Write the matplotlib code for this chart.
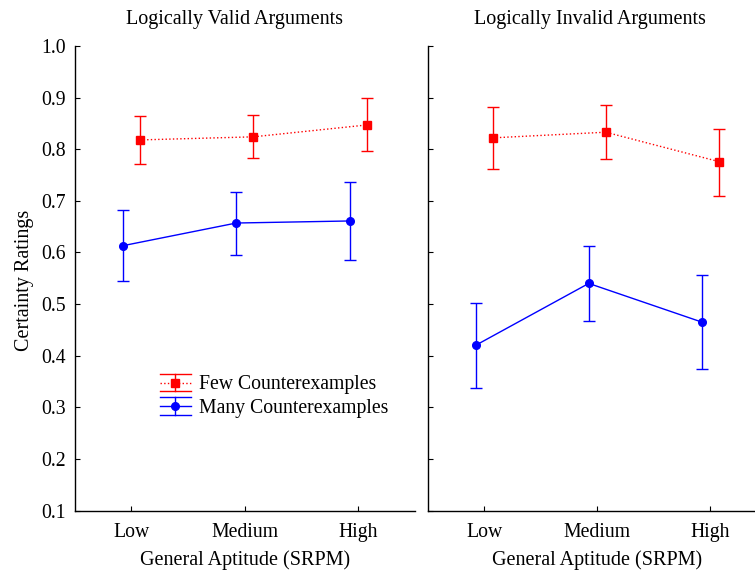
import matplotlib
matplotlib.use("Agg")
import matplotlib.pyplot as plt
import numpy as np
from matplotlib.lines import Line2D
from matplotlib.legend_handler import HandlerBase

plt.rcParams['font.family'] = ['Liberation Serif', 'DejaVu Serif']

categories = ["Low", "Medium", "High"]
series_names = ["Few Counterexamples", "Many Counterexamples"]
panel_titles = ["Logically Valid Arguments", "Logically Invalid Arguments"]

# Logically valid
valid_few = [0.818, 0.824, 0.847]
valid_few_lo = [0.771, 0.783, 0.797]
valid_few_hi = [0.865, 0.866, 0.899]
valid_many = [0.613, 0.657, 0.661]
valid_many_lo = [0.544, 0.596, 0.586]
valid_many_hi = [0.682, 0.718, 0.737]

# Logically invalid
invalid_few = [0.822, 0.833, 0.776]
invalid_few_lo = [0.762, 0.781, 0.710]
invalid_few_hi = [0.881, 0.886, 0.840]
invalid_many = [0.420, 0.540, 0.465]
invalid_many_lo = [0.337, 0.467, 0.375]
invalid_many_hi = [0.503, 0.613, 0.557]

yticks = [0.1, 0.2, 0.3, 0.4, 0.5, 0.6, 0.7, 0.8, 0.9, 1.0]

RED = "#ff0000"
BLUE = "#0000ff"

fig = plt.figure(figsize=(7.55, 5.74), dpi=100)
W, H = 755, 574
ax1 = fig.add_axes([74.5 / W, 1 - 510.5 / H, (415 - 74.5) / W, (510.5 - 46) / H])
ax2 = fig.add_axes([427.5 / W, 1 - 510.5 / H, (767 - 427.5) / W, (510.5 - 46) / H])

x = np.arange(1, 4)
off = 0.075
LABEL_FS = 14.5

def draw(ax, few, flo, fhi, many, mlo, mhi):
    few = np.array(few); many = np.array(many)
    ax.errorbar(x + off, few, yerr=[few - np.array(flo), np.array(fhi) - few],
                color=RED, ls=':', lw=1.0, marker='s', ms=5.5, capsize=4.2,
                elinewidth=1.0, capthick=1.0)
    ax.errorbar(x - off, many, yerr=[many - np.array(mlo), np.array(mhi) - many],
                color=BLUE, ls='-', lw=1.0, marker='o', ms=5.5, capsize=4.2,
                elinewidth=1.0, capthick=1.0)
    ax.set_xlim(0.5, 3.5)
    ax.set_ylim(0.1, 1.0)
    ax.set_xticks(x)
    ax.set_xticklabels(categories, fontsize=14.2)
    ax.set_yticks(yticks)
    for s in ['top', 'right']:
        ax.spines[s].set_visible(False)
    for s in ['left', 'bottom']:
        ax.spines[s].set_linewidth(1.0)
    ax.tick_params(direction='in', length=3.5, width=0.8, labelsize=14.2)
    ax.tick_params(axis='x', pad=9)
    ax.tick_params(axis='y', pad=6)
    ax.set_xlabel("General Aptitude (SRPM)", fontsize=LABEL_FS, labelpad=6)

draw(ax1, valid_few, valid_few_lo, valid_few_hi, valid_many, valid_many_lo, valid_many_hi)
draw(ax2, invalid_few, invalid_few_lo, invalid_few_hi, invalid_many, invalid_many_lo, invalid_many_hi)

ax1.set_yticklabels([f"{v:.1f}" for v in yticks])
ax2.set_yticklabels([])
ax1.set_ylabel("Certainty Ratings", fontsize=LABEL_FS)
ax1.yaxis.set_label_coords(-0.119, 0.496)

ax1.set_title(panel_titles[0], fontsize=LABEL_FS, x=0.469, pad=16)
ax2.set_title(panel_titles[1], fontsize=LABEL_FS, x=0.479, pad=16)


class ErrHandler(HandlerBase):
    def __init__(self, color, ls, marker, **kw):
        super().__init__(**kw)
        self.color, self.ls, self.marker = color, ls, marker

    def create_artists(self, legend, orig_handle, xdescent, ydescent, width, height, fontsize, trans):
        cy = height / 2 - ydescent
        x0 = -xdescent
        x1 = x0 + width
        cx = (x0 + x1) / 2
        d = 6.2
        arts = [
            Line2D([x0, x1], [cy + d, cy + d], color=self.color, lw=1.0),
            Line2D([x0, x1], [cy - d, cy - d], color=self.color, lw=1.0),
            Line2D([cx, cx], [cy - d, cy + d], color=self.color, lw=1.0),
            Line2D([x0, x1], [cy, cy], color=self.color, lw=1.0, ls=self.ls),
            Line2D([cx], [cy], color=self.color, marker=self.marker, ms=5.5, ls='none'),
        ]
        for a in arts:
            a.set_transform(trans)
        return arts


h1 = Line2D([], [], color=RED)
h2 = Line2D([], [], color=BLUE)
ax1.legend([h1, h2], series_names, loc='upper left',
           bbox_to_anchor=((160 - 74.5) / 340.5, (510.5 - 375.5) / 464.5),
           frameon=False, fontsize=14.2, handlelength=1.55, handletextpad=0.45,
           labelspacing=0.22, borderpad=0, borderaxespad=0,
           handler_map={h1: ErrHandler(RED, ':', 's'), h2: ErrHandler(BLUE, '-', 'o')})

fig.savefig("out.png", dpi=100)
